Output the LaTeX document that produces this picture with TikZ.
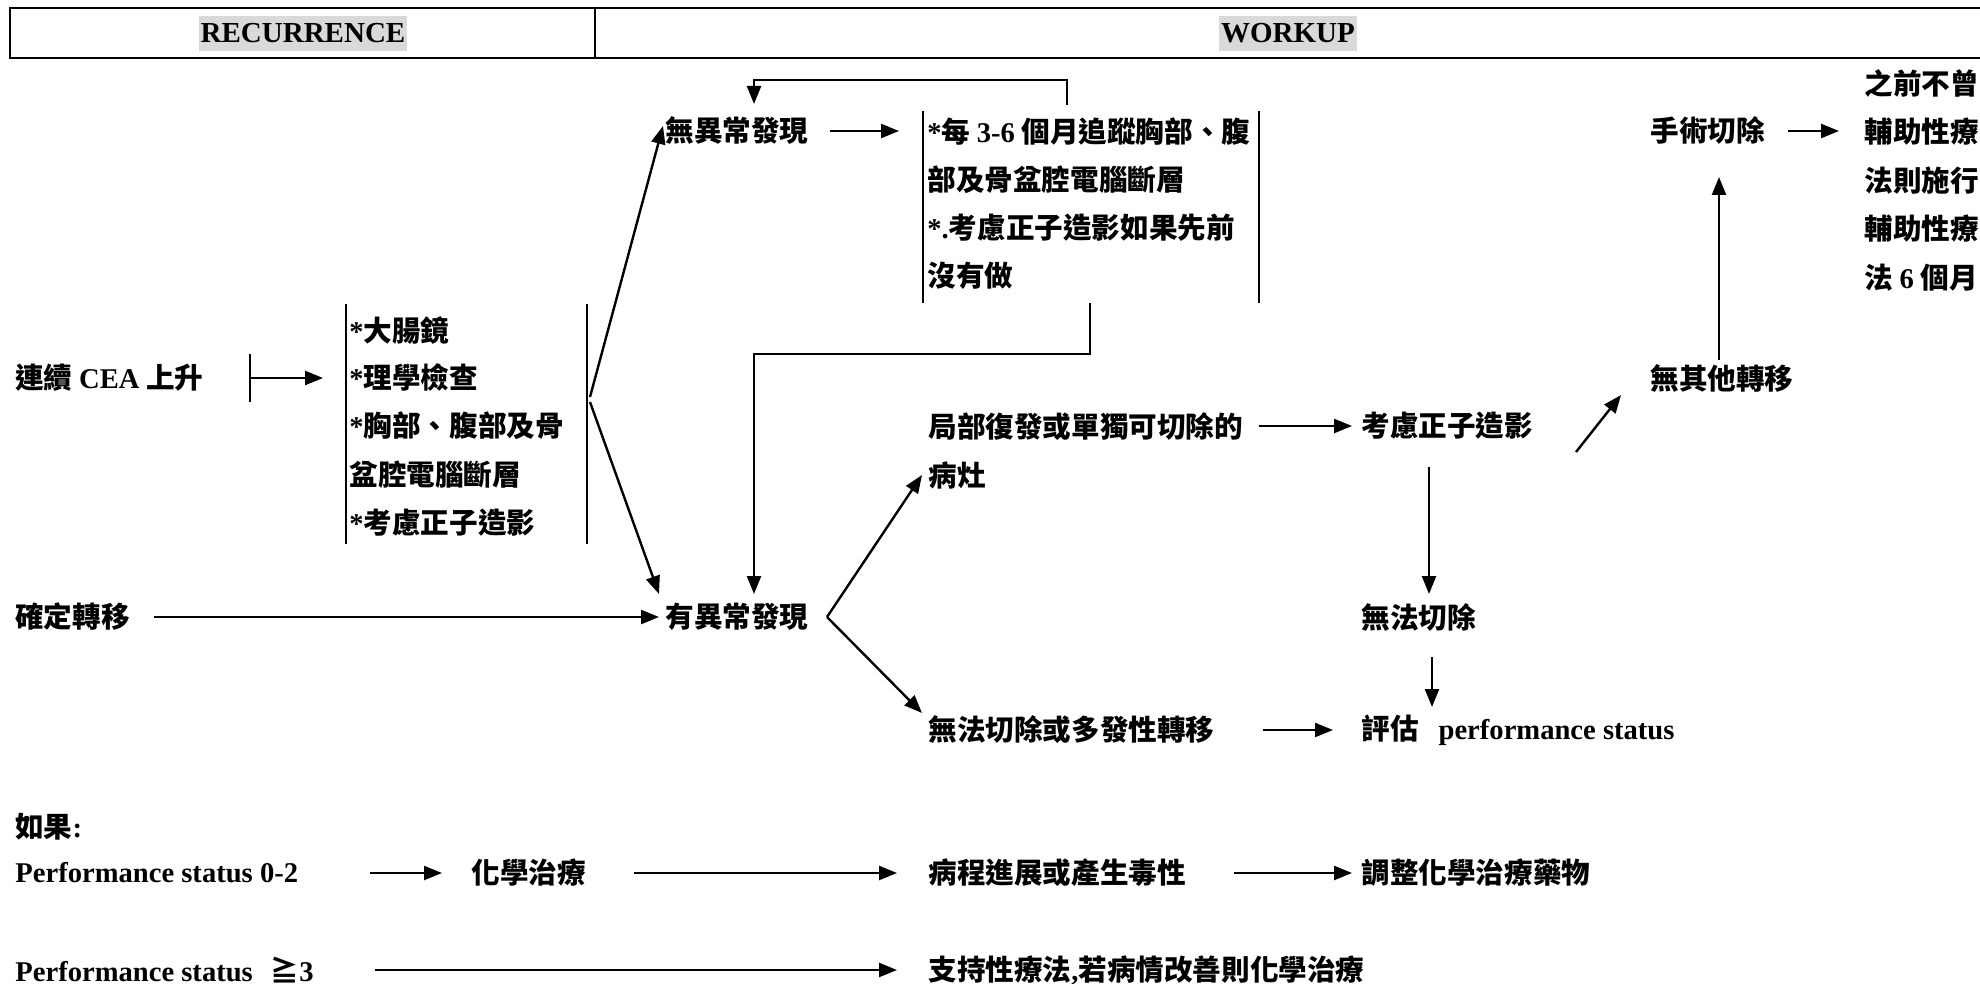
\documentclass[tikz,border=0pt]{standalone}
\usepackage{fontspec}
\setmainfont{Noto Sans CJK TC}
\newfontfamily\tnr{Liberation Serif}
\usetikzlibrary{arrows.meta,calc}
\begin{document}
\begin{tikzpicture}[x=0.5pt,y=-0.5pt,
  every node/.style={inner sep=0pt, anchor=west, font=\fontsize{14.3}{24}\selectfont\bfseries},
  arr/.style={line width=1.2pt, -{Triangle[length=9pt,width=7pt]}},
  ln/.style={line width=1.2pt},
  bar/.style={line width=0.9pt},
  hdr/.style={anchor=center, fill=black!15, inner xsep=1pt, inner ysep=0pt, text height=13.5pt, text depth=4pt, font=\fontsize{14.5}{17}\selectfont\bfseries\tnr}]
\fill[white] (0,0) rectangle (1980,984);
\useasboundingbox (0,0) rectangle (1980,984);

% header
\draw[ln] (1990,8) -- (10,8) -- (10,58) -- (1990,58);
\draw[ln] (595,8) -- (595,58);
\node[hdr] (rec) at (303,33.5) {RECURRENCE};
\node[hdr] (work) at (1288,33.5) {WORKUP};

% nodes
\node (cea) at (15,378) {連續 {\tnr CEA} 上升};
\node[align=left] (box1) at (349,426) {{\tnr *}大腸鏡\\{\tnr *}理學檢查\\{\tnr *}胸部、腹部及骨\\盆腔電腦斷層\\{\tnr *}考慮正子造影};
\node (conf) at (15,617) {確定轉移};
\node (nofind) at (665,131) {無異常發現};
\node[align=left] (box2) at (927,204) {{\tnr *}每 {\tnr 3-6} 個月追蹤胸部、腹\\部及骨盆腔電腦斷層\\{\tnr *.}考慮正子造影如果先前\\沒有做};
\node (abn) at (665,617) {有異常發現};
\node[align=left, font=\fontsize{14.3}{24.5}\selectfont\bfseries] (local) at (928,450.5) {局部復發或單獨可切除的\\病灶};
\node (pet) at (1361,426) {考慮正子造影};
\node (nomet) at (1650,378) {無其他轉移};
\node (surg) at (1650,131) {手術切除};
\node[align=left, font=\fontsize{14.3}{24.25}\selectfont\bfseries] (adj) at (1864,180) {之前不曾\\輔助性療\\法則施行\\輔助性療\\法 {\tnr 6} 個月};
\node (unres) at (1361,617) {無法切除};
\node (eval) at (1361,730) {評估\hspace{0.7em}{\tnr performance status}};
\node (multi) at (928,730) {無法切除或多發性轉移};
\node (ifnode) at (15,827) {如果{\tnr :}};
\node (ps02) at (15,873) {\tnr Performance status 0-2};
\node (chemo) at (471,873) {化學治療};
\node (prog) at (928,873) {病程進展或產生毒性};
\node (adjust) at (1361,873) {調整化學治療藥物};
\node (ps3) at (15,970) {{\tnr Performance status}\hspace{9pt}≧{\tnr 3}};
\node (support) at (928,970) {支持性療法{\tnr ,}若病情改善則化學治療};

% bars
\draw[bar] ($(box1.west)+(-3,-122)$) -- ++(0,240);
\draw[bar] ($(box1.west)+(238,-122)$) -- ++(0,240);
\draw[bar] ($(box2.west)+(-4,-93)$) -- ++(0,192);
\draw[bar] ($(box2.west)+(332,-93)$) -- ++(0,192);

% connectors
\draw[bar] ($(cea.west)+(235,-24)$) -- ++(0,48);
\draw[arr] ($(cea.west)+(235,0)$) -- ($(box1.west|-cea.west)+(-26,0)$);
\coordinate (j1) at ($(box1.west)+(241,-29)$);
\coordinate (j2) at ($(box1.west)+(241,-24)$);
\draw[arr] (j1) -- ($(nofind.west)+(-2,-5)$);
\draw[arr] (j2) -- ($(abn.west)+(-6,-23)$);
\draw[arr] ($(conf.west)+(139,0)$) -- ($(abn.west)+(-6,0)$);
\draw[arr] ($(nofind.west)+(165,0)$) -- ($(box2.west|-nofind.west)+(-28,0)$);
\draw[arr] ($(box2.west)+(140,-99)$) -- ++(0,-25) -| ($(nofind.west)+(89,-27)$);
\draw[arr] ($(box2.west)+(163,99)$) |- ($(abn.west)+(89,-263)$) -- ($(abn.west)+(89,-23)$);
\coordinate (j3) at ($(abn.west)+(162,0)$);
\draw[arr] (j3) -- ($(local.west)+(-6,24.5)$);
\draw[arr] (j3) -- ($(multi.west)+(-6,-17)$);
\draw[arr] ($(local.west)+(331,-24.5)$) -- ($(pet.west)+(-9,0)$);
\draw[arr] ($(pet.west)+(215,26)$) -- ($(nomet.west)+(-29,17)$);
\draw[arr] ($(nomet.west)+(69,-18)$) -- ($(surg.west)+(69,46)$);
\draw[arr] ($(surg.west)+(138,0)$) -- ($(adj.west|-surg.west)+(-25,0)$);
\draw[arr] ($(pet.west)+(68,41)$) -- ($(unres.west)+(68,-23)$);
\draw[arr] ($(unres.west)+(71,40)$) -- ($(eval.west)+(71,-23)$);
\draw[arr] ($(multi.west)+(335,0)$) -- ($(eval.west)+(-28,0)$);
\draw[arr] ($(ps02.west)+(355,0)$) -- ($(chemo.west)+(-29,0)$);
\draw[arr] ($(chemo.west)+(163,0)$) -- ($(prog.west)+(-31,0)$);
\draw[arr] ($(prog.west)+(306,0)$) -- ($(adjust.west)+(-9,0)$);
\draw[arr] ($(ps3.west)+(360,0)$) -- ($(support.west)+(-31,0)$);
\end{tikzpicture}
\end{document}
